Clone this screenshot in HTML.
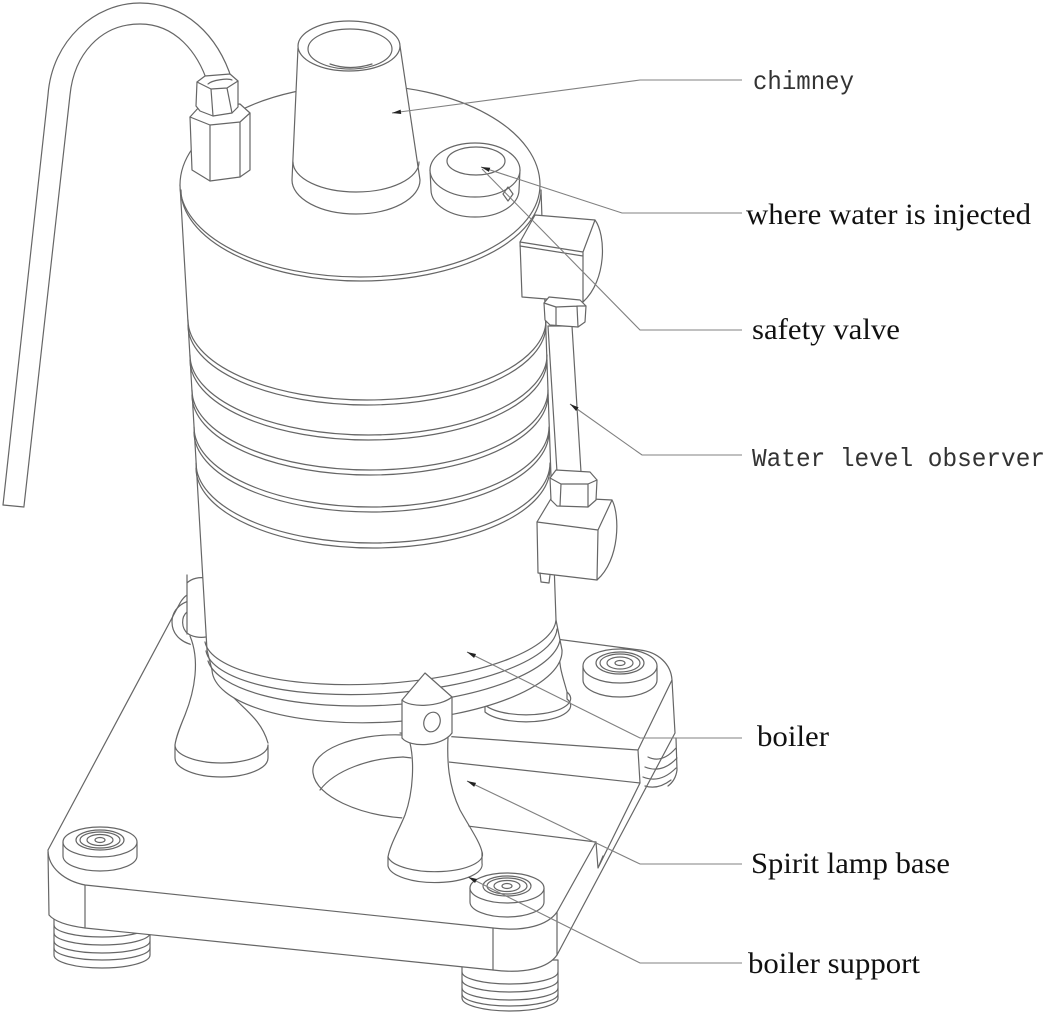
<!DOCTYPE html>
<html>
<head>
<meta charset="utf-8">
<style>
html,body{margin:0;padding:0;background:#fff;}
svg{display:block;}
.f{fill:#fff;}
.mono{font-family:"Liberation Mono","DejaVu Sans Mono",monospace;font-size:26px;fill:#333;}
.serif{font-family:"Liberation Serif","DejaVu Serif",serif;font-size:30px;fill:#111;}
</style>
</head>
<body>
<svg width="1047" height="1018" viewBox="0 0 1047 1018" xmlns="http://www.w3.org/2000/svg">
<defs>
<marker id="ar" markerUnits="userSpaceOnUse" markerWidth="10" markerHeight="6" refX="0" refY="3" orient="auto" viewBox="0 0 10 6">
<path d="M0,3 L9,0.8 L9,5.2 Z" fill="#222"/>
</marker>
</defs>
<rect width="1047" height="1018" fill="#fff"/>
<g fill="none" stroke="#666" stroke-width="1.2" stroke-linejoin="round" stroke-linecap="round">

<!-- pipe -->
<path d="M3,505 L48,95 C52,40 95,3 140,3 C185,3 218,35 232,80"/>
<path d="M24,506 L70,95 C74,55 100,24 140,24 C175,24 198,52 208,84"/>
<path d="M3,505 L24,507"/>

<!-- feet (threaded) -->
<path class="f" d="M54,915 L54,955 A48 13 0 0 0 150,955 L150,915 Z"/>
<path d="M54,925 A48 12 0 0 0 150,925 M54,933 A48 12 0 0 0 150,933 M54,941 A48 12 0 0 0 150,941 M54,948 A48 12 0 0 0 150,948"/>
<path class="f" d="M462,960 L462,998 A48 13 0 0 0 558,998 L558,960 Z"/>
<path d="M462,972 A48 12 0 0 0 558,972 M462,980 A48 12 0 0 0 558,980 M462,988 A48 12 0 0 0 558,988 M462,994 A48 12 0 0 0 558,994"/>

<!-- plate fill -->
<path class="f" stroke="none" d="M197,592 C190,592 184,596 180,603 L48,850 L49,915 C55,922 70,926 85,928 L493,970 C525,974 548,968 557,955 L675,733 L672,680 C671,664 658,652 640,650 L563,642 Z"/>
<!-- plate lines -->
<path d="M197,592 C190,592 184,596 180,603 L48,850 C48,868 65,881 85,885 L493,928 C525,932 548,925 557,912 L596,842"/>
<path d="M638,750 L672,680 C671,664 658,652 640,650 L197,592"/>
<path d="M48,852 L49,915 C55,922 70,926 85,928 L493,970 C525,974 548,968 557,955 L675,733 L672,680"/>
<path d="M85,885 L85,928 M493,928 L493,970 M557,912 L557,955"/>

<!-- back-right foot under corner -->
<path d="M648,757 Q662,764 676,748 M645,767 Q662,774 677,758 M643,777 Q660,784 676,768 M645,786 Q658,790 671,780 M676,738 L677,770 C676,778 672,783 668,786"/>

<!-- slot & hole -->
<path d="M400,733 L638,750 M403,757 L640,783 M638,750 L640,783 M640,783 L598,868 M403,818 L596,842 M596,842 L598,868 L603,856"/>
<path d="M403,735 C355,733 310,750 313,773 C316,797 360,815 403,818"/>
<path d="M320,790 C335,770 370,758 403,757"/>

<!-- pads -->
<path class="f" d="M63,842 L63,856 A37 15 0 0 0 137,856 L137,842 Z"/>
<ellipse class="f" cx="100" cy="842" rx="37" ry="15"/>
<ellipse cx="100" cy="840" rx="24" ry="10"/>
<ellipse cx="100" cy="840" rx="20" ry="8"/>
<ellipse cx="100" cy="840" rx="13" ry="5.5"/>
<ellipse cx="100" cy="840" rx="5" ry="2.5"/>

<path class="f" d="M470,888 L470,902 A37 15 0 0 0 544,902 L544,888 Z"/>
<ellipse class="f" cx="507" cy="888" rx="37" ry="15"/>
<ellipse cx="507" cy="886" rx="24" ry="10"/>
<ellipse cx="507" cy="886" rx="20" ry="8"/>
<ellipse cx="507" cy="886" rx="13" ry="5.5"/>
<ellipse cx="507" cy="886" rx="5" ry="2.5"/>

<path class="f" d="M583,666 L583,680 A37 17 0 0 0 657,680 L657,666 Z"/>
<ellipse class="f" cx="620" cy="666" rx="37" ry="17"/>
<ellipse cx="620" cy="663" rx="24" ry="11"/>
<ellipse cx="620" cy="663" rx="20" ry="9"/>
<ellipse cx="620" cy="663" rx="13" ry="6"/>
<ellipse cx="620" cy="663" rx="5" ry="2.5"/>

<!-- back-left pad -->
<path d="M197,600 C182,600 172,610 172,622 C172,636 184,645 200,646"/>
<path d="M187,612 C181,617 181,628 188,634"/>

<!-- back-right leg foot -->
<path class="f" stroke="none" d="M485,705 L485,712 A41 15 0 0 0 567,699 L567,692 L560,650 L500,680 Z"/>
<path d="M485,705 A41 15 0 0 0 567,692 M485,712 A41 15 0 0 0 567,699 M485,705 L485,712 M567,692 L567,699 M567,692 C563,677 558,665 560,650 M485,705 C490,695 496,688 500,680"/>

<!-- back-left leg -->
<path class="f" stroke="none" d="M187,575 L187,636 C200,660 195,690 185,715 C180,727 176,737 175,745 L175,758 A46.5 19 0 0 0 268,758 L268,743 C262,722 248,712 234,698 L230,640 L207,575 Z"/>
<path d="M187,575 L187,634 M187,583 C192,578 200,577 205,578 M187,633 C192,637 200,638 206,637"/>
<path d="M190,636 C200,660 195,690 185,715 C180,727 176,737 175,745"/>
<path d="M234,698 C248,712 262,722 268,743"/>
<path d="M175,745 A46.5 18 0 0 0 268,745 M175,745 L175,758 A46.5 19 0 0 0 268,758 L268,745"/>

<!-- boiler body fill -->
<path class="f" stroke="none" d="M180,185 L207,650 L212,670 A175 62 -3.3 0 0 562,650 L556,620 L541,190 Z"/>
<!-- body edges -->
<path d="M180,185 L207,650 L212,670"/>
<path d="M541,190 L556,620 L562,650"/>
<!-- flange arcs -->
<path d="M205,642 A176 55 -3.6 0 0 556,620"/>
<path d="M206,651 A176 56 -3.6 0 0 557,629"/>
<path d="M208,661 A177 60 -3.3 0 0 560,640"/>
<path d="M212,670 A175 62 -3.3 0 0 562,650"/>
<!-- rings -->
<path d="M188,320 A179 80 0 0 0 546,320 M188,325 A179 80 0 0 0 546,325"/>
<path d="M190,355 A178.5 80 0 0 0 547,355 M190,360 A178.5 80 0 0 0 547,360"/>
<path d="M192,390 A178 80 0 0 0 548,390 M192,395 A178 80 0 0 0 548,395"/>
<path d="M194,427 A177.5 80 0 0 0 549,427 M194,432 A177.5 80 0 0 0 549,432"/>
<path d="M196,463 A177 80 0 0 0 550,463 M196,468 A177 80 0 0 0 550,468"/>
<!-- lid -->
<path class="f" d="M180,185 A180 100 0 0 1 540,185 A180 92 0 0 1 180,185 Z"/>
<path d="M181,190 A180 91 0 0 0 541,190"/>

<!-- chimney -->
<path class="f" stroke="none" d="M298,47 L292,180 A64 34 0 0 0 420,180 L400,45 Z"/>
<path d="M298,48 L292,180 A64 34 0 0 0 420,180 L400,46"/>
<path d="M293,162 A63 30 0 0 0 419,162"/>
<ellipse class="f" cx="349" cy="46" rx="51" ry="25"/>
<ellipse cx="350" cy="49" rx="42" ry="20"/>
<path d="M330,64 Q350,71 372,64"/>

<!-- injection cap -->
<path class="f" d="M430,170 L431,190 A44 27 0 0 0 519,190 L520,170 Z"/>
<ellipse class="f" cx="475" cy="170" rx="45" ry="27"/>
<ellipse cx="476" cy="161" rx="29" ry="14"/>
<path d="M508,187 L513,194 L508,201 L503,194 Z"/>

<!-- top fitting nuts -->
<path class="f" d="M190,117 L200,106 L240,104 L250,113 L250,170 L240,177 L210,181 L192,170 Z"/>
<path d="M190,117 L210,125 L240,122 L250,113 M210,125 L210,181 M240,122 L240,177"/>
<path class="f" d="M197,82 L205,76 L230,74 L238,81 L238,107 L232,113 L213,116 L200,111 L196,106 Z"/>
<path d="M197,82 L211,89 L227,88 L238,81 M211,89 L213,116 M227,88 L232,113"/>
<path d="M208,84 C212,80 228,78 232,80"/>

<!-- safety valve block (upper) -->
<path class="f" d="M535,215 L595,220 C606,235 607,280 583,302 L522,297 L520,242 Z"/>
<path d="M520,242 L583,252 L583,302 M583,252 L595,220 M520,246 L583,256"/>
<!-- lower block -->
<path class="f" d="M552,497 L612,500 C620,515 620,560 597,580 L538,573 L537,522 Z"/>
<path d="M537,522 L598,530 L597,580 M598,530 L612,500 M540,573 L541,582 L549,583 L550,575"/>
<!-- tube -->
<path class="f" d="M548,326 L572,326 L581,472 L557,472 Z"/>
<!-- upper tube nut -->
<path class="f" d="M544,303 L549,297 L580,300 L586,306 L585,322 L578,327 L550,325 L545,320 Z"/>
<path d="M544,303 L556,307 L580,306 L586,306 M556,307 L556,325 M577,306 L578,327"/>
<!-- lower tube nut -->
<path class="f" d="M550,478 L556,470 L590,472 L597,480 L596,500 L588,507 L557,506 L551,500 Z"/>
<path d="M550,478 L561,484 L588,484 L597,480 M561,484 L560,506 M588,484 L588,507"/>

<!-- spirit lamp -->
<path class="f" stroke="none" d="M425,673 L452,697 L452,733 C449,748 448,760 450,775 C455,810 478,840 482,852 L482,863 A47 17 0 0 1 388,866 L388,857 C395,830 414,800 413,770 C412,755 408,745 402,738 L402,700 Z"/>
<path d="M402,700 L425,673 L452,697"/>
<path d="M402,700 C410,708 440,707 452,697"/>
<path d="M402,700 L402,738 M452,697 L452,733"/>
<path d="M402,738 C410,748 442,747 452,733"/>
<ellipse cx="432" cy="722" rx="8" ry="10" transform="rotate(20 432 722)"/>
<path d="M410,743 C414,760 414,790 405,815 C398,832 390,845 388,857"/>
<path d="M448,737 C447,760 448,785 460,810 C470,828 480,842 482,852"/>
<path d="M388,857 A47 17 0 0 0 482,852"/>
<path d="M388,857 L388,866 A47 18 0 0 0 482,863 L482,852"/>
</g>

<!-- leaders -->
<g fill="none" stroke="#808080" stroke-width="1.1">
<polyline points="392,113 640,80 742,80" marker-start="url(#ar)"/>
<polyline points="481,167 622,213 742,213" marker-start="url(#ar)"/>
<polyline points="482,169 640,330 742,330"/>
<polyline points="570,404 642,455 742,455" marker-start="url(#ar)"/>
<polyline points="467,652 640,738 742,738" marker-start="url(#ar)"/>
<polyline points="467,781 640,864 742,864" marker-start="url(#ar)"/>
<polyline points="468,877 640,963 742,963" marker-start="url(#ar)"/>
</g>

<!-- labels -->
<text class="mono" x="753" y="89" textLength="101" lengthAdjust="spacingAndGlyphs">chimney</text>
<text class="serif" x="746" y="224" textLength="285" lengthAdjust="spacingAndGlyphs">where water is injected</text>
<text class="serif" x="752" y="339" textLength="148" lengthAdjust="spacingAndGlyphs">safety valve</text>
<text class="mono" x="752" y="466" textLength="293" lengthAdjust="spacingAndGlyphs">Water level observer</text>
<text class="serif" x="757" y="746" textLength="72" lengthAdjust="spacingAndGlyphs">boiler</text>
<text class="serif" x="751" y="873" textLength="199" lengthAdjust="spacingAndGlyphs">Spirit lamp base</text>
<text class="serif" x="748" y="973" textLength="172" lengthAdjust="spacingAndGlyphs">boiler support</text>
</svg>
</body>
</html>
